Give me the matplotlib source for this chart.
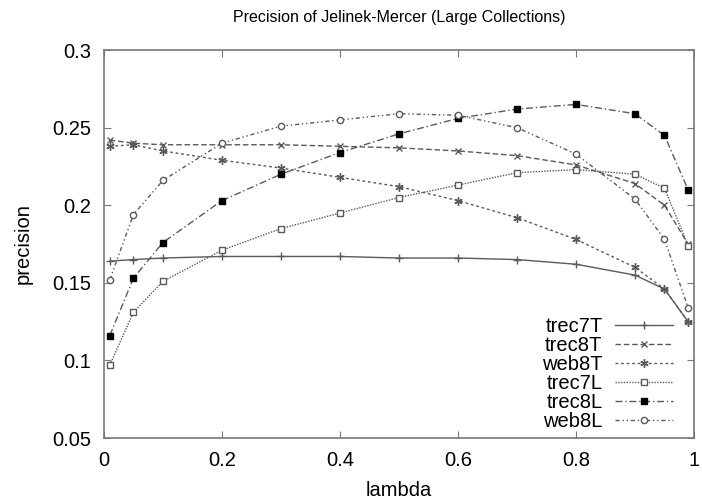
"""Precision of Jelinek-Mercer smoothing over lambda, large collections."""
import matplotlib.pyplot as plt

plt.rcParams['font.family'] = ['Liberation Sans', 'DejaVu Sans']

lam = [0.01, 0.05, 0.1, 0.2, 0.3, 0.4, 0.5, 0.6, 0.7, 0.8, 0.9, 0.95, 0.99]

trec7T = [0.164, 0.165, 0.166, 0.167, 0.167, 0.167, 0.166, 0.166, 0.165, 0.162, 0.155, 0.146, 0.125]
trec8T = [0.242, 0.240, 0.239, 0.239, 0.239, 0.238, 0.237, 0.235, 0.232, 0.226, 0.214, 0.200, 0.175]
web8T = [0.238, 0.239, 0.235, 0.229, 0.224, 0.218, 0.212, 0.203, 0.192, 0.178, 0.160, 0.146, 0.125]
trec7L = [0.097, 0.131, 0.151, 0.171, 0.185, 0.195, 0.205, 0.213, 0.221, 0.223, 0.220, 0.211, 0.174]
trec8L = [0.116, 0.153, 0.176, 0.203, 0.220, 0.234, 0.246, 0.256, 0.262, 0.265, 0.259, 0.245, 0.210]
web8L = [0.152, 0.194, 0.216, 0.240, 0.251, 0.255, 0.259, 0.258, 0.250, 0.233, 0.204, 0.178, 0.134]

fig = plt.figure(figsize=(7.02, 5.01), dpi=100)
ax = fig.add_axes([0.148, 0.1257, 0.8406, 0.7743])

c = '#5a5a5a'
ax.plot(lam, trec7T, color=c, lw=1, ls='-', marker='+', ms=6, label='trec7T')
ax.plot(lam, trec8T, color=c, lw=1, ls=(0, (4, 2)), marker='x', ms=4.5, label='trec8T')
ax.plot(lam, web8T, color=c, lw=1, ls=(0, (2, 2)), marker=(6, 2, 0), ms=6, label='web8T')
ax.plot(lam, trec7L, color=c, lw=1, ls=(0, (1, 1)), marker='s', ms=4,
        mfc='white', mec=c, label='trec7L')
ax.plot(lam, trec8L, color=c, lw=1, ls=(0, (5, 2, 1, 2)), marker='s', ms=5,
        mfc='black', mec='black', label='trec8L')
ax.plot(lam, web8L, color=c, lw=1, ls=(0, (3, 2, 1, 2, 1, 2)), marker='o', ms=4.5,
        mfc='white', mec=c, label='web8L')

ax.set_xlim(0, 1)
ax.set_ylim(0.05, 0.3)
ax.set_xticks([0, 0.2, 0.4, 0.6, 0.8, 1])
ax.set_xticklabels(['0', '0.2', '0.4', '0.6', '0.8', '1'])
ax.set_yticks([0.05, 0.1, 0.15, 0.2, 0.25, 0.3])
ax.set_yticklabels(['0.05', '0.1', '0.15', '0.2', '0.25', '0.3'])
ax.tick_params(direction='in', top=True, right=True, length=5, width=0.8,
               color='#777777', labelsize=14.5, pad=9)
for s in ax.spines.values():
    s.set_color('#777777')
    s.set_linewidth(1.2)

ax.set_xlabel('lambda', fontsize=14.5, labelpad=8)
ax.set_ylabel('precision', fontsize=14.5, labelpad=14)
ax.set_title('Precision of Jelinek-Mercer (Large Collections)', fontsize=11.5, pad=20)

ax.legend(loc='lower right', bbox_to_anchor=(0.985, -0.012), frameon=False,
          markerfirst=False, fontsize=14.5, handlelength=2.9, labelspacing=0.0,
          handletextpad=0.6, borderpad=0.1)

fig.savefig('out.png', dpi=100)
